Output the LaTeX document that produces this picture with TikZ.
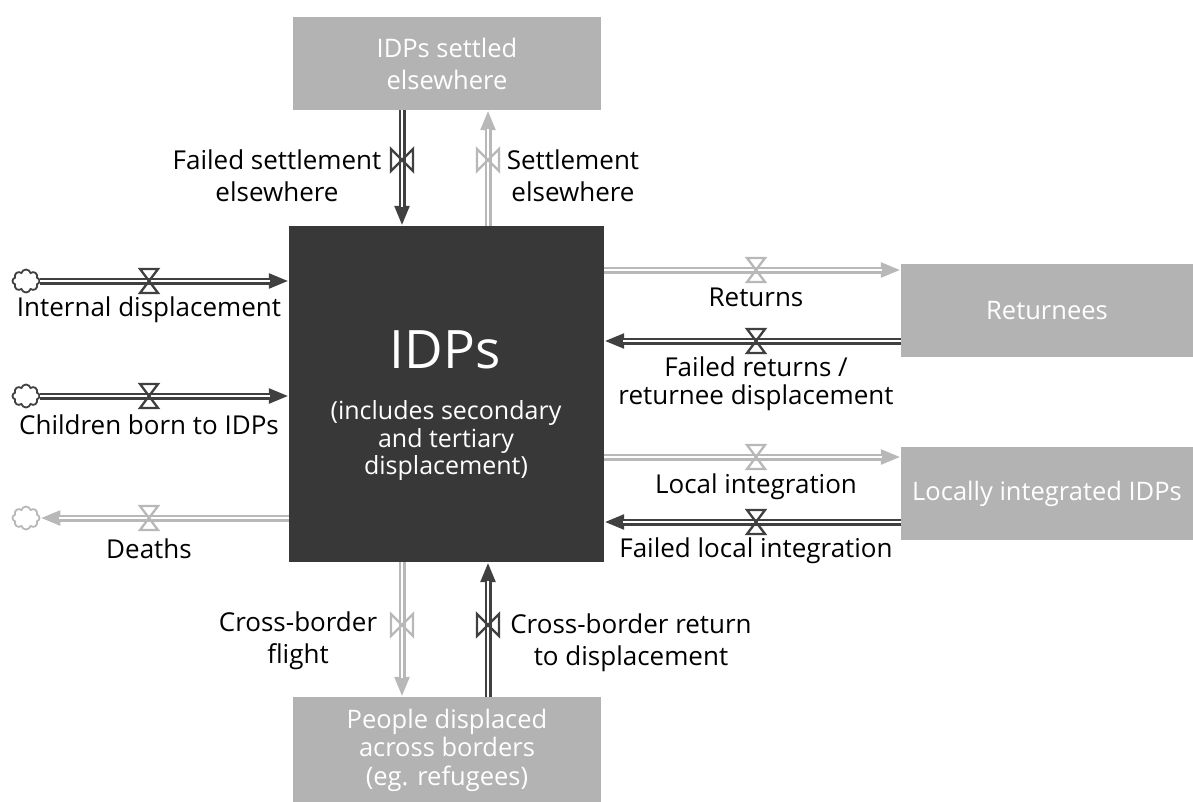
\documentclass[tikz,border=0pt]{standalone}
\usepackage{fontspec}
\setmainfont{Open Sans}
\usetikzlibrary{arrows.meta,positioning,shapes.symbols}
\definecolor{dk}{HTML}{404040}
\definecolor{lt}{HTML}{B8B8B8}
\definecolor{boxdk}{HTML}{383838}
\definecolor{boxlt}{HTML}{B3B3B3}

\begin{document}
\begin{tikzpicture}[x=1pt,y=-1pt,
	stock/.style={fill=boxlt, text=white, align=center, inner sep=0pt, minimum width=308, minimum height=93, font=\fontsize{25.5}{32}\selectfont},
	lbl/.style={align=center, inner sep=0pt, font=\fontsize{26}{32}\selectfont},
	cld/.style={cloud, cloud puffs=8, aspect=1.2, draw=#1, line width=1.8pt, inner sep=0pt, minimum width=27, minimum height=23},
	flow/.style={draw=#1, line width=7pt, -{Triangle[length=20pt,width=14pt]}, postaction={draw=white, line width=2.6pt, -, shorten >=19pt}},
	hv/.pic={\draw[pic actions] (-9,-12) -- (9,-12) -- (-9,12) -- (9,12) -- cycle;},
	vv/.pic={\draw[pic actions] (-11,-11) -- (-11,11) -- (11,-11) -- (11,11) -- cycle;}]
	\useasboundingbox (0,0) rectangle (1193,802);

	% stocks
	\path 	(446.5,394) node (idp) [fill=boxdk, minimum width=315, minimum height=336, inner sep=0pt] {}
		(447,63.5) node (set) [stock] {IDPs settled\\elsewhere}
		(1047,310.5) node (ret) [stock, minimum width=292] {Returnees}
		(1047,493.5) node (loc) [stock, minimum width=292] {Locally integrated IDPs}
		(447,750) node (ref) [stock, minimum height=106, font=\fontsize{25.5}{28.5}\selectfont] {People displaced\\across borders\\(eg. refugees)};
	\node (idpa) at (445,350) [text=white, font=\fontsize{53}{60}\selectfont] {IDPs};
	\node (idpb) at (446,441) [lbl, text=white, font=\fontsize{25}{27.5}\selectfont] {(includes secondary\\and tertiary\\displacement)};

	% sources and sinks
	\path 	(26,281) node (c1) [cld=dk] {}
		(26,396) node (c2) [cld=dk] {}
		(26,518) node (c3) [cld=lt] {};

	% valve positions
	\path 	(149,281) coordinate (v1)
		(149,396) coordinate (v2)
		(149,518) coordinate (v3)
		(402,160) coordinate (v4)
		(488,160) coordinate (v5)
		(756,270) coordinate (v6)
		(756,341) coordinate (v7)
		(756,457) coordinate (v8)
		(756,522) coordinate (v9)
		(402,625) coordinate (v10)
		(488,625) coordinate (v11);

	% flows
	\draw [flow=dk] (c1.east) -- (idp.west |- c1);
	\draw [flow=dk] (c2.east) -- (idp.west |- c2);
	\draw [flow=lt] (idp.west |- c3) -- (c3.east);
	\draw [flow=dk] (set.south -| v4) -- (idp.north -| v4);
	\draw [flow=lt] (idp.north -| v5) -- (set.south -| v5);
	\draw [flow=lt] (idp.east |- v6) -- (ret.west |- v6);
	\draw [flow=dk] (ret.west |- v7) -- (idp.east |- v7);
	\draw [flow=lt] (idp.east |- v8) -- (loc.west |- v8);
	\draw [flow=dk] (loc.west |- v9) -- (idp.east |- v9);
	\draw [flow=lt] (idp.south -| v10) -- (ref.north -| v10);
	\draw [flow=dk] (ref.north -| v11) -- (idp.south -| v11);

	% valves
	\pic [draw=dk, line width=2.3pt] at (v1) {hv};
	\pic [draw=dk, line width=2.3pt] at (v2) {hv};
	\pic [draw=lt, line width=2.3pt] at (v3) {hv};
	\pic [draw=dk, line width=2.3pt] at (v4) {vv};
	\pic [draw=lt, line width=2.3pt] at (v5) {vv};
	\pic [draw=lt, line width=2.3pt] at (v6) {hv};
	\pic [draw=dk, line width=2.3pt] at (v7) {hv};
	\pic [draw=lt, line width=2.3pt] at (v8) {hv};
	\pic [draw=dk, line width=2.3pt] at (v9) {hv};
	\pic [draw=lt, line width=2.3pt] at (v10) {vv};
	\pic [draw=dk, line width=2.3pt] at (v11) {vv};

	% labels
	\path 	(149,310) node (l1) [lbl] {Internal displacement}
		(149,425) node (l2) [lbl] {Children born to IDPs}
		(149,549) node (l3) [lbl] {Deaths}
		(277,176) node (l4) [lbl] {Failed settlement\\elsewhere}
		(573,176) node (l5) [lbl] {Settlement\\elsewhere}
		(756,297) node (l6) [lbl] {Returns}
		(756,384) node (l7) [lbl, font=\fontsize{26}{28}\selectfont] {Failed returns /\\returnee displacement}
		(756,487) node (l8) [lbl] {Local integration}
		(756,551) node (l9) [lbl] {Failed local integration}
		(298,641) node (l10) [lbl] {Cross-border\\flight}
		(631,643) node (l11) [lbl] {Cross-border return\\to displacement};
\end{tikzpicture}
\end{document}
